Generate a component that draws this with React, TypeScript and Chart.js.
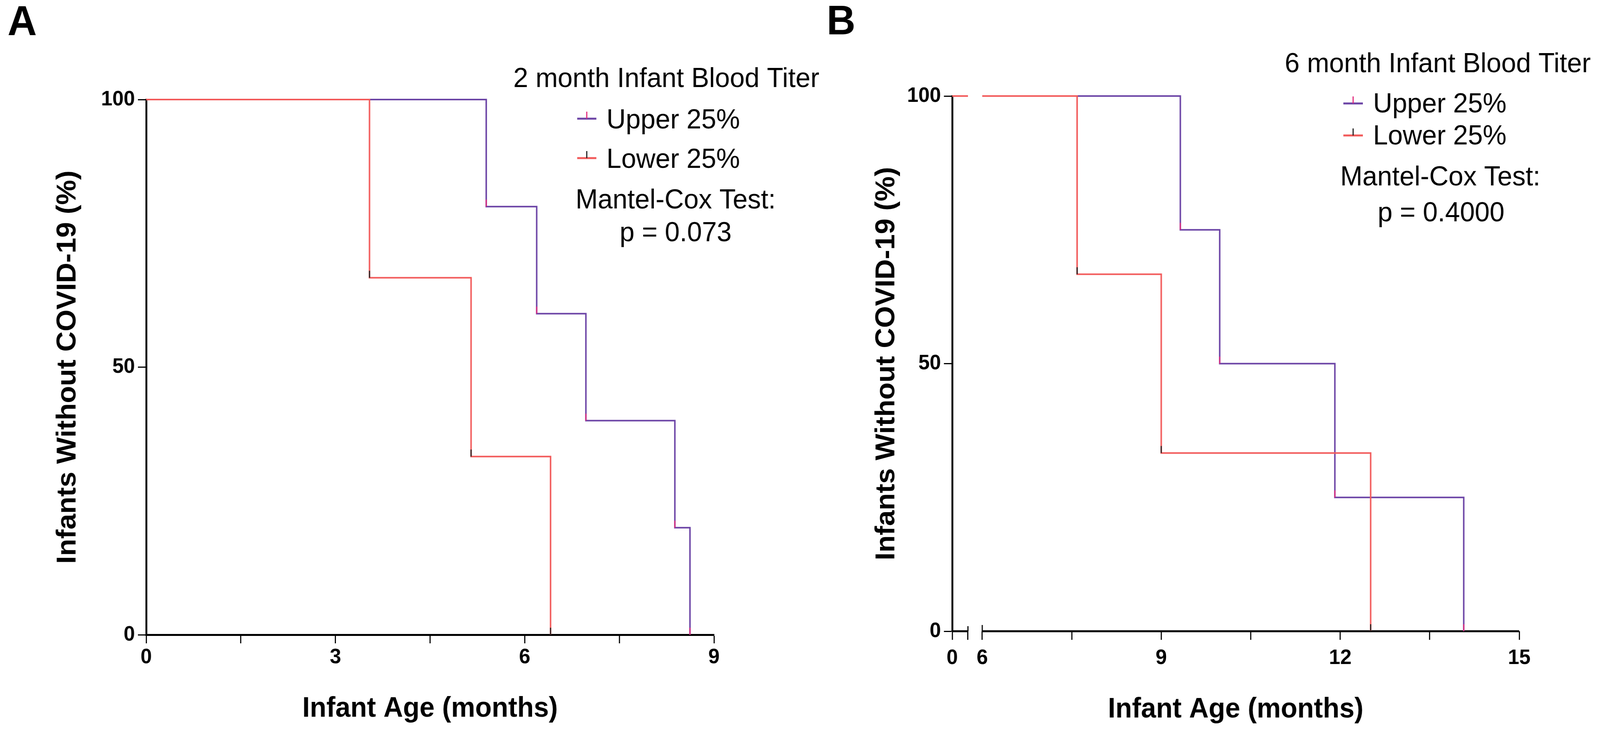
import React, { useEffect, useRef } from 'react';
import { Chart, registerables, LinearScale } from 'chart.js';

Chart.register(...registerables);

// ---------------- data ----------------
const SERIES_NAMES = ['Upper 25%', 'Lower 25%'];
const START_SURVIVAL = 100;

const A_UPPER_TIMES = [5.39, 6.19, 6.97, 8.38, 8.62];
const A_UPPER_SURVIVAL = [80, 60, 40, 20, 0];
const A_LOWER_TIMES = [3.54, 5.15, 6.41];
const A_LOWER_SURVIVAL = [66.7, 33.3, 0];

const B_UPPER_TIMES = [9.32, 9.98, 11.91, 14.07];
const B_UPPER_SURVIVAL = [75, 50, 25, 0];
const B_LOWER_TIMES = [7.59, 9.0, 12.51];
const B_LOWER_SURVIVAL = [66.7, 33.3, 0];

const A_X_TICKS = [0, 1.5, 3, 4.5, 6, 7.5, 9];
const A_X_TICK_LABELS = ['0', '', '3', '', '6', '', '9'];
const B_X_TICKS = [0, 1, 6, 7.5, 9, 10.5, 12, 13.5, 15];
const B_X_TICK_LABELS = ['0', '', '6', '', '9', '', '12', '', '15'];
const Y_TICKS = [0, 50, 100];
const Y_TICK_LABELS = ['0', '50', '100'];
const B_BREAK_LOW_MAX = 1;
const B_BREAK_MAIN_MIN = 6;

const PANEL_LETTERS = ['A', 'B'];
const LEGEND_TITLES = ['2 month Infant Blood Titer', '6 month Infant Blood Titer'];
const TEST_NAME = 'Mantel-Cox Test:';
const P_VALUES = ['p = 0.073', 'p = 0.4000'];
const X_TITLE = 'Infant Age (months)';
const Y_TITLE = 'Infants Without COVID-19 (%)';

// ---------------- styles / layout (design space 4258 x 1870) ----------------
const W = 4258;
const H = 1870;
const FONT = '"Liberation Sans", Arial, Helvetica, sans-serif';
const UPPER_COLOR = '#6C45A6';
const LOWER_COLOR = '#F25A5A';
const UPPER_TICK = '#E2287B';
const LOWER_TICK = '#1E1E1E';
const LEGEND_SIZE = 71;

const LAYOUT_A = {
  padLeft: 0, padRight: 2358, padTop: 255, yAxisWidth: 389, xAxisHeight: 244,
  yTitlePad: 138, xTitlePad: 11, xTickPad: 4,
  letterX: 20, letterBase: 90, letterSize: 108,
  legTitleX: 1366, legTitleBase: 223, symX: 1536, symW: 51, textX: 1614,
  rowBases: [329, 430], symRise: 25, testCx: 1798, testBase: 534, pCx: 1798, pBase: 618,
};
const LAYOUT_B = {
  padLeft: 2145, padRight: 215, padTop: 246, yAxisWidth: 389, xAxisHeight: 253,
  yTitlePad: 172, xTitlePad: 9, xTickPad: 15,
  letterX: 2200, letterBase: 88, letterSize: 106,
  legTitleX: 3419, legTitleBase: 185, symX: 3575, symW: 52, textX: 3654,
  rowBases: [288, 370], symRise: 23, testCx: 3833, testBase: 475, pCx: 3835, pBase: 567,
  lowFrac: 0.0278, mainFrac: 0.053,
};

// ---------------- broken linear scale ----------------
class BrokenLinearScale extends LinearScale {
  static id = 'brokenLinear';
  getPixelForValue(value: any) {
    const brk = (this.options as any).brk;
    if (!brk || value === null || value === undefined || isNaN(value)) {
      return super.getPixelForValue(value);
    }
    const left = this.left;
    const right = this.right;
    const w = right - left;
    const lowEnd = left + w * brk.lowFrac;
    const mainStart = left + w * brk.mainFrac;
    const lo = this.min;
    if (value <= brk.lowMax) return left + ((value - lo) / (brk.lowMax - lo)) * (lowEnd - left);
    if (value < brk.mainMin) {
      return lowEnd + ((value - brk.lowMax) / (brk.mainMin - brk.lowMax)) * (mainStart - lowEnd);
    }
    return mainStart + ((value - brk.mainMin) / (this.max - brk.mainMin)) * (right - mainStart);
  }
}
Chart.register(BrokenLinearScale as any);

type KmPoint = { x: number; y: number | null; ev: boolean };
function kmPoints(times: number[], surv: number[], brk?: { lowMax: number; mainMin: number }): KmPoint[] {
  const pts: KmPoint[] = [{ x: 0, y: START_SURVIVAL, ev: false }];
  if (brk) {
    pts.push({ x: brk.lowMax, y: START_SURVIVAL, ev: false });
    pts.push({ x: (brk.lowMax + brk.mainMin) / 2, y: null, ev: false });
    pts.push({ x: brk.mainMin, y: START_SURVIVAL, ev: false });
  }
  times.forEach((t, i) => pts.push({ x: t, y: surv[i], ev: true }));
  return pts;
}

const eventTickPlugin = {
  id: 'eventTicks',
  afterDatasetsDraw(chart: any) {
    const ctx = chart.ctx;
    ctx.save();
    chart.data.datasets.forEach((ds: any, i: number) => {
      const meta = chart.getDatasetMeta(i);
      meta.data.forEach((el: any, j: number) => {
        const raw = ds.data[j];
        if (!raw || !raw.ev) return;
        ctx.strokeStyle = ds.eventTickColor;
        ctx.lineWidth = 3;
        ctx.beginPath();
        ctx.moveTo(el.x, el.y);
        ctx.lineTo(el.x, el.y - 18);
        ctx.stroke();
      });
    });
    ctx.restore();
  },
};

const brokenAxisPlugin = {
  id: 'brokenAxis',
  beforeDatasetsDraw(chart: any) {
    const xs = chart.scales.x;
    const y = chart.chartArea.bottom;
    const ctx = chart.ctx;
    const p0 = xs.getPixelForValue(xs.min);
    const p1 = xs.getPixelForValue(B_BREAK_LOW_MAX);
    const p2 = xs.getPixelForValue(B_BREAK_MAIN_MIN);
    const p3 = xs.getPixelForValue(xs.max);
    ctx.save();
    ctx.strokeStyle = '#000';
    ctx.lineWidth = 5;
    ctx.beginPath();
    ctx.moveTo(p0, y);
    ctx.lineTo(p1, y);
    ctx.moveTo(p2, y);
    ctx.lineTo(p3, y);
    ctx.stroke();
    ctx.lineWidth = 3;
    ctx.beginPath();
    ctx.moveTo(p1, y);
    ctx.lineTo(p1, y - 13);
    ctx.moveTo(p2, y);
    ctx.lineTo(p2, y - 16);
    ctx.stroke();
    ctx.restore();
  },
};

function annotationPlugin(idx: number, L: any) {
  return {
    id: 'annot' + idx,
    afterDraw(chart: any) {
      const ctx = chart.ctx;
      ctx.save();
      ctx.fillStyle = '#000';
      ctx.textBaseline = 'alphabetic';
      ctx.textAlign = 'left';
      ctx.font = `bold ${L.letterSize}px ${FONT}`;
      ctx.fillText(PANEL_LETTERS[idx], L.letterX, L.letterBase);
      ctx.font = `${LEGEND_SIZE}px ${FONT}`;
      ctx.fillText(LEGEND_TITLES[idx], L.legTitleX, L.legTitleBase);
      chart.data.datasets.forEach((ds: any, i: number) => {
        const base = L.rowBases[i];
        const ly = base - L.symRise;
        ctx.strokeStyle = ds.borderColor;
        ctx.lineWidth = 5;
        ctx.beginPath();
        ctx.moveTo(L.symX, ly);
        ctx.lineTo(L.symX + L.symW, ly);
        ctx.stroke();
        const cx = L.symX + L.symW / 2;
        ctx.strokeStyle = ds.eventTickColor;
        ctx.lineWidth = 3;
        ctx.beginPath();
        ctx.moveTo(cx, ly);
        ctx.lineTo(cx, ly - 18);
        ctx.stroke();
        ctx.fillText(ds.label, L.textX, base);
      });
      ctx.textAlign = 'center';
      ctx.fillText(TEST_NAME, L.testCx, L.testBase);
      ctx.fillText(P_VALUES[idx], L.pCx, L.pBase);
      ctx.restore();
    },
  };
}

function buildConfig(idx: number): any {
  const isB = idx === 1;
  const L: any = isB ? LAYOUT_B : LAYOUT_A;
  const brk = isB ? { lowMax: B_BREAK_LOW_MAX, mainMin: B_BREAK_MAIN_MIN } : undefined;
  const upper = isB ? kmPoints(B_UPPER_TIMES, B_UPPER_SURVIVAL, brk) : kmPoints(A_UPPER_TIMES, A_UPPER_SURVIVAL);
  const lower = isB ? kmPoints(B_LOWER_TIMES, B_LOWER_SURVIVAL, brk) : kmPoints(A_LOWER_TIMES, A_LOWER_SURVIVAL);
  const xTicks = isB ? B_X_TICKS : A_X_TICKS;
  const xLabels = isB ? B_X_TICK_LABELS : A_X_TICK_LABELS;
  const tickFont = { family: FONT, size: 54, weight: 'bold' };
  const titleFont = { family: FONT, size: 72, weight: 'bold' };
  const common = { stepped: 'before', pointRadius: 0, borderWidth: 4, fill: false, spanGaps: false, clip: false };
  return {
    type: 'line',
    data: {
      datasets: [
        { ...common, label: SERIES_NAMES[0], data: upper, borderColor: UPPER_COLOR, eventTickColor: UPPER_TICK, order: 1 },
        { ...common, label: SERIES_NAMES[1], data: lower, borderColor: LOWER_COLOR, eventTickColor: LOWER_TICK, order: 0 },
      ],
    },
    options: {
      animation: false,
      responsive: false,
      devicePixelRatio: 1,
      events: [],
      layout: { padding: { left: L.padLeft, right: L.padRight, top: L.padTop, bottom: 0 } },
      plugins: { legend: { display: false }, tooltip: { enabled: false }, title: { display: false } },
      scales: {
        x: {
          type: isB ? 'brokenLinear' : 'linear',
          min: 0,
          max: isB ? 15 : 9,
          brk: isB ? { lowMax: B_BREAK_LOW_MAX, mainMin: B_BREAK_MAIN_MIN, lowFrac: L.lowFrac, mainFrac: L.mainFrac } : undefined,
          afterBuildTicks: (s: any) => { s.ticks = xTicks.map((v) => ({ value: v })); },
          afterFit: (s: any) => { s.height = L.xAxisHeight; },
          grid: { drawOnChartArea: false, drawTicks: true, tickLength: 22, tickWidth: 3, tickColor: '#000', color: '#000' },
          border: { display: !isB, width: 5, color: '#000' },
          ticks: {
            autoSkip: false, maxRotation: 0, minRotation: 0, color: '#000', font: tickFont, padding: L.xTickPad,
            callback: (_v: any, i: number) => xLabels[i],
          },
          title: { display: true, text: X_TITLE, color: '#000', font: titleFont, padding: { top: 0, bottom: L.xTitlePad } },
        },
        y: {
          type: 'linear',
          min: 0,
          max: 100,
          afterBuildTicks: (s: any) => { s.ticks = Y_TICKS.map((v) => ({ value: v })); },
          afterFit: (s: any) => { s.width = L.yAxisWidth; },
          grid: { drawOnChartArea: false, drawTicks: true, tickLength: 22, tickWidth: 3, tickColor: '#000', color: '#000' },
          border: { display: true, width: 5, color: '#000' },
          ticks: {
            autoSkip: false, color: '#000', font: tickFont, padding: 8,
            callback: (_v: any, i: number) => Y_TICK_LABELS[i],
          },
          title: { display: true, text: Y_TITLE, color: '#000', font: titleFont, padding: { top: L.yTitlePad, bottom: 0 } },
        },
      },
    },
    plugins: isB
      ? [brokenAxisPlugin, eventTickPlugin, annotationPlugin(idx, L)]
      : [eventTickPlugin, annotationPlugin(idx, L)],
  };
}

export default function App() {
  const refA = useRef<HTMLCanvasElement>(null);
  const refB = useRef<HTMLCanvasElement>(null);
  // the browser viewport may be narrower than the design width: scale the canvases to fit it
  const viewW = typeof window !== 'undefined' && window.innerWidth ? Math.min(window.innerWidth, W) : W;
  const viewH = typeof window !== 'undefined' && window.innerHeight ? Math.min(window.innerHeight, H) : H;
  useEffect(() => {
    document.body.style.margin = '0';
    document.body.style.overflow = 'hidden';
    const a = new Chart(refA.current as HTMLCanvasElement, buildConfig(0));
    const b = new Chart(refB.current as HTMLCanvasElement, buildConfig(1));
    return () => {
      a.destroy();
      b.destroy();
    };
  }, []);
  const canvasStyle: React.CSSProperties = {
    position: 'absolute', left: 0, top: 0, width: `${viewW}px`, height: `${viewH}px`,
  };
  return (
    <div style={{ position: 'relative', width: viewW, height: viewH, background: '#fff', overflow: 'hidden' }}>
      <canvas ref={refA} width={W} height={H} style={canvasStyle} />
      <canvas ref={refB} width={W} height={H} style={canvasStyle} />
    </div>
  );
}
